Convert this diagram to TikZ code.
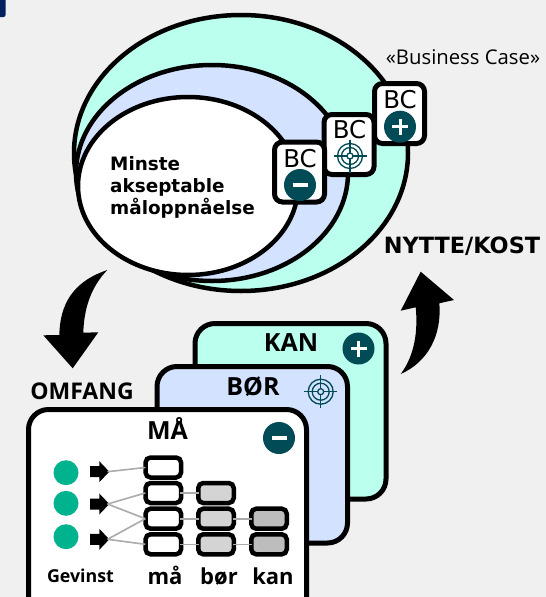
\documentclass[tikz,border=0pt]{standalone}
\usepackage{fontspec}
\setmainfont{Open Sans}
\newfontfamily\djv{DejaVu Sans}
\usetikzlibrary{calc}
\definecolor{bgc}{HTML}{F0F0F0}
\definecolor{cy}{HTML}{BBFFEF}
\definecolor{bl}{HTML}{D3E2FF}
\definecolor{teal}{HTML}{004B55}
\definecolor{grn}{HTML}{00B38F}
\definecolor{navy}{HTML}{002060}
\definecolor{gr1}{HTML}{D4D4D4}
\definecolor{gr2}{HTML}{BDBDBD}
\newcommand{\tgt}[2]{\begin{scope}[shift={(#1,#2)},teal,line width=1.3pt]
\draw (0,0) circle (12.5); \draw (0,0) circle (8.5); \draw (0,0) circle (3);
\draw (-16.5,0)--(-3,0) (3,0)--(16.5,0) (0,-16.5)--(0,-3) (0,3)--(0,16.5);
\end{scope}}
\newcommand{\plusb}[2]{\fill[teal] (#1,#2) circle (16);
\draw[white,line width=3pt] ($(#1,#2)+(-8,0)$)--($(#1,#2)+(8,0)$) ($(#1,#2)+(0,-8)$)--($(#1,#2)+(0,8)$);}
\newcommand{\minusb}[2]{\fill[teal] (#1,#2) circle (16);
\draw[white,line width=3.6pt] ($(#1,#2)+(-7.5,0)$)--($(#1,#2)+(7.5,0)$);}
\tikzset{
 ell/.style={draw=black,line width=4.5pt},
 card/.style={draw=black,line width=5pt,rounded corners=20pt},
 bcbox/.style={draw=black,fill=white,line width=5pt,rounded corners=8pt,minimum width=50pt,minimum height=60pt},
 cell/.style={draw=black,fill=white,line width=4.5pt,rounded corners=5pt,minimum width=35.5pt,minimum height=20pt,inner sep=0pt},
 link/.style={draw=black!33,line width=1.6pt},
 clink/.style={link,shorten <=-3pt,shorten >=-3pt},
 head/.style={text=black,inner sep=0pt,anchor=base,font=\bfseries\fontsize{25}{28}\selectfont},
 sub/.style={text=black,inner sep=0pt,anchor=base,font=\bfseries\fontsize{22}{24}\selectfont},
 minst/.style={inner sep=0pt,anchor=base west,font=\djv\bfseries\fontsize{18.4}{22}\selectfont},
 bctext/.style={inner sep=0pt,anchor=base,font=\djv\fontsize{24.5}{26}\selectfont},
 dot/.style={circle,fill=grn,minimum size=25pt,inner sep=0pt}
}
\begin{document}
\begin{tikzpicture}[x=1pt,y=-1pt]
\useasboundingbox (0,0) rectangle (546,597);
\fill[bgc] (0,0) rectangle (546,597);
\fill[navy,rounded corners=2pt] (-4,-4) rectangle (5.5,17);
\draw[ell,fill=cy] (241,153) ellipse [x radius=167,y radius=138];
\draw[ell,fill=bl] (212,173) ellipse [x radius=136,y radius=108];
\draw[ell,fill=white] (188,186) ellipse [x radius=110,y radius=89];
\node[minst] (maal) at (110,170.5) {Minste};
\node[minst] (maal2) at (110,192.5) {akseptable};
\node[minst] (maal3) at (110,214.5) {måloppnåelse};
\node[inner sep=0pt,anchor=base,font=\fontsize{20.3}{24}\selectfont] (bclabel) at (463,64) {«Business Case»};
\node[bcbox] (bc3) at (399.5,113.5) {};
\node[bcbox] (bc2) at (349,144.5) {};
\node[bcbox] (bc1) at (299.5,172) {};
\node[bctext] (t3) at (400,108) {BC};
\node[bctext] (t2) at (349.5,138) {BC};
\node[bctext] (t1) at (300,167.5) {BC};
\plusb{400}{126.7}
\tgt{350}{156}
\minusb{300}{185}
\node[inner sep=0pt,anchor=base,font=\djv\bfseries\fontsize{22.4}{24}\selectfont] (nk) at (462,253) {NYTTE/KOST};
\node[inner sep=0pt,anchor=base,font=\bfseries\fontsize{23}{24}\selectfont] (om) at (82,399) {OMFANG};
% curved arrows
\fill[black] (107.3,270) .. controls (72,282) and (60,305) .. (59.3,335) -- (43.3,335.3) -- (72.7,368.3) -- (98.3,332.3) -- (83.3,332.7) .. controls (84,310) and (90,288) .. (107.3,270) -- cycle;
\fill[black] (400.7,374) .. controls (428,362) and (442,335) .. (439.3,303.3) -- (454,300) -- (420.7,271.7) -- (400.7,310.7) -- (415.7,307.3) .. controls (418,330) and (415,355) .. (400.7,374) -- cycle;
% cards
\draw[card,fill=cy] (195,323.5) rectangle (386,499);
\draw[card,fill=bl] (157,366.5) rectangle (347.5,543);
\draw[card,fill=white] (28.5,409.5) rectangle (306.5,620);
\node[head] (kan) at (291,351.7) {KAN};
\node[head] (bor) at (253,395) {BØR};
\node[head] (ma) at (167.5,439.3) {MÅ};
\plusb{358.5}{348.5}
\tgt{320.7}{391.7}
\minusb{279}{438}
% gains
\node[dot] (g1) at (66,472.7) {};
\node[dot] (g2) at (66,503.3) {};
\node[dot] (g3) at (66,536.7) {};
\foreach \n/\y in {a1/471.7,a2/504,a3/539.3}{
 \fill[black] (90,\y-5.5) -- (99.3,\y-5.5) -- (99.3,\y-10.5) -- (109.3,\y) -- (99.3,\y+10.5) -- (99.3,\y+5.5) -- (90,\y+5.5) -- cycle;
 \coordinate (\n) at (107.5,\y);
}
\node[cell] (m1) at (163.3,467.5) {};
\node[cell] (m2) at (163.3,493) {};
\node[cell] (m3) at (163.3,518.7) {};
\node[cell] (m4) at (163.3,544.3) {};
\node[cell,fill=gr1] (b2) at (216,493) {};
\node[cell,fill=gr1] (b3) at (216,518.7) {};
\node[cell,fill=gr1] (b4) at (216,544.3) {};
\node[cell,fill=gr2] (k3) at (269,518.7) {};
\node[cell,fill=gr2] (k4) at (269,544.3) {};
\draw[link] (a1)--($(m1.west)+(2,0)$) (a2)--($(m2.west)+(2,0)$) (a2)--($(m3.west)+(2,0)$) (a3)--($(m3.west)+(2,0)$) (a3)--($(m4.west)+(2,0)$);
\draw[clink] (m2)--(b2);
\draw[clink] (m3)--(b3);
\draw[clink] (m4)--(b4);
\draw[clink] (b3)--(k3);
\draw[clink] (b4)--(k4);
\node[inner sep=0pt,anchor=base,font=\bfseries\fontsize{17.8}{20}\selectfont] (gv) at (80.5,582.7) {Gevinst};
\node[sub] (lm) at (165,584) {må};
\node[sub] (lb) at (219,584) {bør};
\node[sub] (lk) at (273,584) {kan};
\end{tikzpicture}
\end{document}
